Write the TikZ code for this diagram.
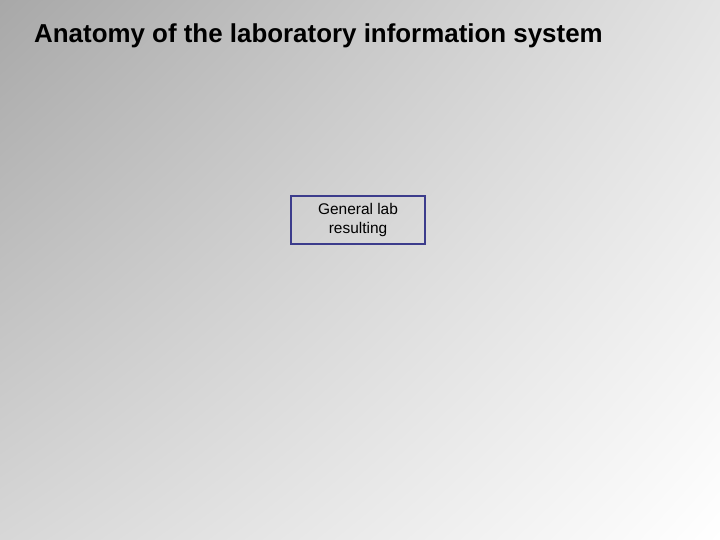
\documentclass[tikz,border=0pt]{standalone}
\usepackage{fontspec}
\setmainfont{Liberation Sans}
\usetikzlibrary{shadings}
\definecolor{bgtl}{RGB}{168,168,168}
\definecolor{bgtr}{RGB}{228,228,228}
\definecolor{bgbl}{RGB}{215,215,215}
\definecolor{boxline}{RGB}{60,60,140}
\begin{document}
\begin{tikzpicture}[x=1bp,y=-1bp,
  titletext/.style={anchor=base west,inner sep=0,font=\fontsize{26}{30}\selectfont\bfseries},
  boxnode/.style={draw=boxline,line width=1.5bp,minimum width=134bp,minimum height=48bp,align=center,inner sep=0,font=\fontsize{15.5}{20}\selectfont}]
\useasboundingbox (0,0) rectangle (720,540);
\shade[upper left=bgtl,upper right=bgtr,lower left=bgbl,lower right=white] (0,0) rectangle (720,540);
\node[titletext] (title) at (34,43) {Anatomy of the laboratory information system};
\node[boxnode] (box) at (358,220) {General lab\\resulting};
\end{tikzpicture}
\end{document}
